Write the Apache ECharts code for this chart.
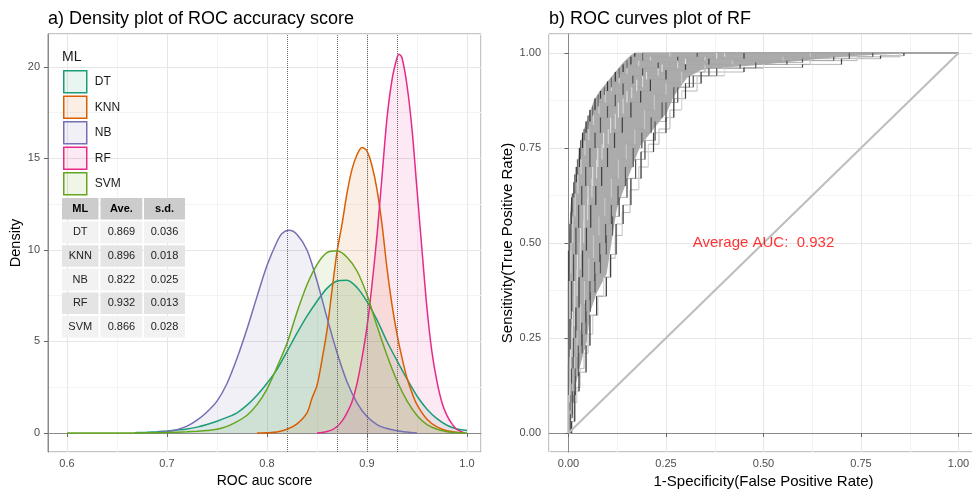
<!DOCTYPE html>
<html><head><meta charset="utf-8">
<script src="https://cdn.jsdelivr.net/npm/echarts@6/dist/echarts.min.js"></script>
<style>html,body{margin:0;padding:0;background:#fff}#c{width:972px;height:490px}</style>
</head><body><div id="c"></div>
<script>
// ---------- data ----------
const mlNames = ['DT', 'KNN', 'NB', 'RF', 'SVM'];
const aveValues = [0.869, 0.896, 0.822, 0.932, 0.866];
const sdValues = [0.036, 0.018, 0.025, 0.013, 0.028];
const tableHeader = ['ML', 'Ave.', 's.d.'];

const densityXTicks = [0.6, 0.7, 0.8, 0.9, 1.0];
const densityYTicks = [0, 5, 10, 15, 20];
const rocTicks = [0, 0.25, 0.5, 0.75, 1];

const densityDT = [[0.668,0],[0.67,0.02],[0.68,0.04],[0.69,0.07],[0.70,0.11],[0.71,0.16],[0.72,0.22],[0.73,0.32],[0.74,0.46],[0.75,0.64],[0.76,0.85],[0.77,1.1],[0.78,1.52],[0.79,2.06],[0.80,2.72],[0.81,3.48],[0.82,4.45],[0.83,5.45],[0.84,6.38],[0.85,7.2],[0.86,7.9],[0.87,8.3],[0.88,8.35],[0.89,7.95],[0.90,7.18],[0.91,6.18],[0.92,5.0],[0.93,3.95],[0.94,2.95],[0.95,2.02],[0.96,1.3],[0.97,0.78],[0.98,0.42],[0.99,0.22],[1.0,0.14]];
const densityKNN = [[0.79,0],[0.80,0.01],[0.81,0.05],[0.82,0.2],[0.83,0.5],[0.84,1.1],[0.845,1.9],[0.85,2.6],[0.855,4.0],[0.86,5.6],[0.865,7.8],[0.87,9.9],[0.875,11.4],[0.88,13.1],[0.885,14.4],[0.89,15.2],[0.895,15.6],[0.90,15.4],[0.905,14.6],[0.91,13.3],[0.915,11.4],[0.92,9.0],[0.925,7.0],[0.93,5.4],[0.935,4.1],[0.94,3.0],[0.945,2.2],[0.95,1.55],[0.96,0.75],[0.97,0.33],[0.98,0.12],[0.99,0.03],[0.995,0]];
const densityNB = [[0.685,0],[0.69,0.03],[0.70,0.08],[0.71,0.18],[0.72,0.37],[0.73,0.7],[0.74,1.15],[0.75,1.74],[0.76,2.7],[0.77,4.08],[0.78,5.68],[0.79,7.45],[0.80,9.15],[0.81,10.45],[0.815,10.9],[0.822,11.07],[0.83,10.85],[0.84,10.0],[0.85,8.3],[0.86,6.3],[0.87,4.4],[0.88,2.8],[0.89,1.65],[0.90,0.9],[0.91,0.46],[0.92,0.24],[0.93,0.12],[0.94,0.05],[0.95,0]];
const densityRF = [[0.85,0],[0.855,0.03],[0.86,0.08],[0.865,0.17],[0.87,0.35],[0.875,0.65],[0.88,1.1],[0.885,1.7],[0.89,2.7],[0.895,4.1],[0.90,5.8],[0.905,8.1],[0.91,10.8],[0.915,14.0],[0.92,17.2],[0.925,19.3],[0.93,20.5],[0.932,20.7],[0.935,20.5],[0.94,19.0],[0.945,16.6],[0.95,13.3],[0.955,10.0],[0.96,6.8],[0.965,4.4],[0.97,2.8],[0.975,1.65],[0.98,0.95],[0.985,0.5],[0.99,0.19],[0.995,0.05],[0.998,0]];
const densitySVM = [[0.60,0],[0.65,0],[0.68,0.01],[0.70,0.02],[0.71,0.04],[0.72,0.06],[0.73,0.09],[0.74,0.13],[0.75,0.2],[0.76,0.36],[0.77,0.62],[0.78,0.97],[0.79,1.55],[0.80,2.4],[0.81,3.6],[0.82,4.9],[0.83,6.6],[0.84,8.1],[0.85,9.2],[0.86,9.85],[0.87,9.95],[0.88,9.6],[0.89,8.85],[0.90,7.55],[0.91,5.85],[0.92,4.25],[0.93,2.85],[0.94,1.75],[0.95,0.95],[0.96,0.45],[0.97,0.2],[0.98,0.07],[0.99,0.02],[1.0,0]];
const densitySeries = [densityDT, densityKNN, densityNB, densityRF, densitySVM];

// ROC band envelope of all RF folds (FPR, TPR)
const rocBandUpper = [[0,0],[0,0.49],[0.004,0.52],[0.009,0.61],[0.015,0.66],[0.022,0.7],[0.03,0.76],[0.04,0.8],[0.05,0.83],[0.065,0.875],[0.08,0.9],[0.1,0.925],[0.12,0.95],[0.14,0.975],[0.16,0.995],[0.17,1]];
const rocBandLower = [[0,0],[0.005,0.03],[0.01,0.045],[0.017,0.12],[0.028,0.17],[0.047,0.24],[0.056,0.32],[0.073,0.37],[0.098,0.42],[0.11,0.5],[0.124,0.59],[0.15,0.665],[0.184,0.755],[0.218,0.8],[0.252,0.843],[0.27,0.886],[0.304,0.935],[0.34,0.955],[0.4,0.962],[0.48,0.968],[0.55,0.975],[0.62,0.982],[0.7,0.99],[0.8,0.996],[0.86,0.999],[1,1]];

// individual ROC fold curves (FPR, TPR)
const rocFold1 = [[0,0],[0,0.48],[0.004,0.55],[0.008,0.62],[0.014,0.66],[0.02,0.7],[0.028,0.75],[0.036,0.79],[0.045,0.82],[0.055,0.85],[0.068,0.88],[0.082,0.9],[0.1,0.925],[0.12,0.95],[0.14,0.97],[0.16,0.99],[0.17,1],[1,1]];
const rocFold2 = [[0,0],[0,0.3],[0.003,0.42],[0.006,0.5],[0.011,0.57],[0.017,0.63],[0.024,0.68],[0.032,0.73],[0.042,0.77],[0.052,0.81],[0.064,0.84],[0.078,0.87],[0.094,0.9],[0.11,0.92],[0.13,0.945],[0.15,0.965],[0.18,0.98],[0.21,0.99],[0.26,1],[1,1]];
const rocFold3 = [[0,0],[0,0.18],[0.004,0.3],[0.008,0.4],[0.013,0.47],[0.019,0.54],[0.026,0.6],[0.034,0.65],[0.044,0.7],[0.055,0.75],[0.068,0.79],[0.082,0.83],[0.1,0.86],[0.12,0.89],[0.14,0.92],[0.165,0.94],[0.19,0.96],[0.23,0.975],[0.28,0.99],[0.33,1],[1,1]];
const rocFold4 = [[0,0],[0.002,0.12],[0.005,0.22],[0.01,0.32],[0.016,0.4],[0.023,0.47],[0.031,0.54],[0.04,0.6],[0.05,0.65],[0.062,0.7],[0.075,0.75],[0.09,0.79],[0.108,0.83],[0.128,0.87],[0.15,0.9],[0.175,0.93],[0.2,0.95],[0.24,0.97],[0.3,0.985],[0.38,1],[1,1]];
const rocFold5 = [[0,0],[0.003,0.08],[0.007,0.17],[0.012,0.25],[0.019,0.33],[0.027,0.41],[0.036,0.48],[0.046,0.54],[0.057,0.6],[0.07,0.65],[0.085,0.7],[0.1,0.75],[0.118,0.79],[0.138,0.83],[0.16,0.87],[0.185,0.9],[0.21,0.93],[0.25,0.955],[0.3,0.97],[0.36,0.985],[0.45,1],[1,1]];
const rocFold6 = [[0,0],[0.004,0.06],[0.009,0.13],[0.015,0.2],[0.022,0.27],[0.031,0.34],[0.041,0.4],[0.052,0.46],[0.064,0.52],[0.078,0.57],[0.093,0.62],[0.11,0.67],[0.128,0.72],[0.148,0.76],[0.17,0.8],[0.195,0.85],[0.22,0.89],[0.25,0.92],[0.29,0.95],[0.35,0.97],[0.42,0.98],[0.55,0.99],[0.62,1],[1,1]];
const rocFold7 = [[0,0],[0.005,0.04],[0.011,0.1],[0.018,0.15],[0.026,0.21],[0.035,0.26],[0.045,0.32],[0.056,0.37],[0.068,0.42],[0.082,0.47],[0.097,0.52],[0.113,0.57],[0.13,0.62],[0.15,0.67],[0.172,0.72],[0.196,0.77],[0.222,0.82],[0.25,0.87],[0.28,0.91],[0.32,0.94],[0.38,0.96],[0.48,0.975],[0.6,0.985],[0.72,1],[1,1]];
const rocFold8 = [[0,0],[0.006,0.03],[0.013,0.08],[0.021,0.12],[0.03,0.17],[0.04,0.21],[0.05,0.26],[0.062,0.31],[0.075,0.36],[0.09,0.41],[0.105,0.46],[0.12,0.52],[0.138,0.58],[0.158,0.64],[0.18,0.7],[0.205,0.76],[0.232,0.8],[0.26,0.85],[0.29,0.9],[0.33,0.94],[0.4,0.96],[0.5,0.97],[0.62,0.98],[0.74,0.99],[0.85,1],[1,1]];
const rocFold9 = [[0,0],[0.008,0.03],[0.016,0.11],[0.027,0.16],[0.045,0.23],[0.055,0.31],[0.072,0.36],[0.097,0.41],[0.108,0.47],[0.122,0.55],[0.14,0.6],[0.16,0.67],[0.186,0.74],[0.218,0.79],[0.25,0.83],[0.27,0.88],[0.3,0.92],[0.34,0.95],[0.45,0.962],[0.6,0.97],[0.7,0.985],[0.8,0.993],[0.86,1],[1,1]];
const rocFold10 = [[0,0],[0,0.4],[0.002,0.5],[0.006,0.58],[0.01,0.63],[0.016,0.68],[0.023,0.72],[0.031,0.77],[0.04,0.8],[0.05,0.835],[0.062,0.86],[0.076,0.89],[0.092,0.91],[0.11,0.935],[0.13,0.96],[0.15,0.98],[0.19,1],[1,1]];
const rocFold11 = [[0,0],[0.001,0.1],[0.004,0.2],[0.009,0.28],[0.015,0.36],[0.022,0.43],[0.03,0.5],[0.039,0.56],[0.049,0.62],[0.06,0.67],[0.072,0.72],[0.086,0.76],[0.102,0.8],[0.12,0.84],[0.14,0.88],[0.162,0.91],[0.19,0.94],[0.23,0.96],[0.28,0.98],[0.35,0.99],[0.4,1],[1,1]];
const rocFold12 = [[0,0],[0.005,0.05],[0.01,0.11],[0.017,0.17],[0.025,0.23],[0.034,0.29],[0.044,0.35],[0.055,0.4],[0.067,0.45],[0.08,0.5],[0.095,0.55],[0.11,0.6],[0.127,0.65],[0.146,0.7],[0.166,0.75],[0.188,0.79],[0.212,0.83],[0.24,0.87],[0.27,0.91],[0.31,0.94],[0.36,0.96],[0.44,0.97],[0.56,0.98],[0.68,0.99],[0.78,1],[1,1]];
const rocFolds = [rocFold1, rocFold2, rocFold3, rocFold4, rocFold5, rocFold6, rocFold7, rocFold8, rocFold9, rocFold10, rocFold11, rocFold12];

const chanceLine = [[0,0],[1,1]];
const aucLabelPos = [0.5, 0.5];
const aucText = 'Average AUC:  0.932';

// ---------- styles ----------
const FONT = '"Liberation Sans", Arial, Helvetica, sans-serif';
const mlColors = ['#1b9e77', '#d95f02', '#7570b3', '#e7298a', '#66a61e'];
const mlFills = ['rgba(27,158,119,0.1)', 'rgba(217,95,2,0.1)', 'rgba(117,112,179,0.1)', 'rgba(231,41,138,0.1)', 'rgba(102,166,30,0.1)'];
const foldColors = ['#333333', '#d2d2d2', '#4f4f4f', '#e0e0e0', '#3f3f3f', '#c8c8c8', '#5a5a5a', '#dadada', '#404040', '#6a6a6a', '#d6d6d6', '#595959'];

function mainAxis(gridIndex, min, max, step, ticks, digits, margin, extra) {
  return Object.assign({
    type: 'value', gridIndex, min, max, minInterval: step, maxInterval: step, z: 1,
    axisLine: { show: true, lineStyle: { color: '#8a8a8a', width: 1 } },
    axisTick: { show: true, length: 4, customValues: ticks, lineStyle: { color: '#666', width: 1 } },
    axisLabel: { color: '#4d4d4d', fontSize: 11, fontFamily: FONT, margin, customValues: ticks,
      formatter: v => Number(v).toFixed(digits) },
    splitLine: { show: true, lineStyle: { color: '#e6e6e6', width: 1 } },
    nameLocation: 'middle'
  }, extra);
}
function minorAxis(gridIndex, min, max, step) {
  return {
    type: 'value', gridIndex, min, max, minInterval: step, maxInterval: step, z: 0,
    axisLine: { show: false }, axisTick: { show: false }, axisLabel: { show: false },
    splitLine: { show: true, lineStyle: { color: '#f3f3f3', width: 1 } }
  };
}

const X0 = [0.581, 1.014], Y0 = [-1.04, 21.8], R = [-0.05, 1.05];

const series = [];
densitySeries.forEach((d, i) => {
  series.push({
    type: 'line', name: mlNames[i], xAxisIndex: 0, yAxisIndex: 0, data: d,
    showSymbol: false, smooth: 0.3, silent: true, z: 2,
    lineStyle: { color: mlColors[i], width: 1.5 },
    itemStyle: { color: mlColors[i] },
    areaStyle: { color: mlColors[i], opacity: 0.1 },
    markLine: {
      silent: true, symbol: ['none', 'none'], label: { show: false },
      lineStyle: { color: '#6a6a6a', type: 'dotted', width: 1 },
      data: [{ xAxis: aveValues[i] }]
    }
  });
});
// band of all folds
series.push({
  type: 'custom', xAxisIndex: 1, yAxisIndex: 1, data: [[0, 0]], silent: true, z: 1,
  renderItem: (params, api) => {
    const pts = rocBandUpper.concat(rocBandLower.slice().reverse()).map(p => api.coord(p));
    return { type: 'polygon', shape: { points: pts }, style: { fill: '#ababab' } };
  }
});
// fold curves (thin) as step lines
rocFolds.forEach((d, i) => {
  series.push({
    type: 'line', xAxisIndex: 1, yAxisIndex: 1, data: d, step: 'end',
    showSymbol: false, silent: true, z: 2,
    lineStyle: { color: '#a4a4a4', width: 0.8 }
  });
});
// vertical jumps of each fold curve, drawn as strokes
const jumpData = [];
rocFolds.forEach((d, f) => {
  for (let k = 1; k < d.length; k++) {
    if (d[k][1] > d[k - 1][1]) jumpData.push([d[k][0], d[k - 1][1], d[k][1], f]);
  }
});
series.push({
  type: 'custom', xAxisIndex: 1, yAxisIndex: 1, data: jumpData, silent: true, z: 3,
  encode: { x: 0, y: [1, 2] },
  renderItem: (params, api) => {
    const a = api.coord([api.value(0), api.value(1)]);
    const b = api.coord([api.value(0), api.value(2)]);
    return { type: 'line', shape: { x1: a[0], y1: a[1], x2: b[0], y2: b[1] },
      style: { stroke: foldColors[api.value(3) % foldColors.length], lineWidth: 1.2 } };
  }
});
series.push({
  type: 'line', xAxisIndex: 1, yAxisIndex: 1, data: chanceLine, showSymbol: false, silent: true, z: 4,
  lineStyle: { color: '#bdbdbd', width: 2 }
});
series.push({
  type: 'scatter', xAxisIndex: 1, yAxisIndex: 1, data: [aucLabelPos], symbolSize: 1, silent: true, z: 5,
  itemStyle: { color: 'rgba(0,0,0,0)' },
  label: { show: true, position: 'inside', formatter: aucText, color: '#ff0000', fontSize: 15, fontFamily: FONT }
});

// table graphic
const colX = [62, 100.5, 144], colW = [36.5, 41.8, 41], rowY0 = 198, rowPitch = 23.6, cellH = 21.6;
const graphics = [{ type: 'text', left: 62, top: 50, z: 100, silent: true,
  style: { text: 'ML', font: '14px ' + FONT, fill: '#1a1a1a' } }];
for (let r = 0; r <= mlNames.length; r++) {
  for (let c = 0; c < 3; c++) {
    const fill = r === 0 ? '#cccccc' : (r % 2 === 1 ? '#f2f2f2' : '#e4e4e4');
    graphics.push({ type: 'rect', z: 100, silent: true,
      shape: { x: colX[c], y: rowY0 + r * rowPitch, width: colW[c], height: cellH }, style: { fill } });
    const txt = r === 0 ? tableHeader[c] : [mlNames[r - 1], aveValues[r - 1].toFixed(3), sdValues[r - 1].toFixed(3)][c];
    graphics.push({ type: 'text', z: 101, silent: true,
      x: colX[c] + colW[c] / 2, y: rowY0 + r * rowPitch + cellH / 2,
      style: { text: txt, font: (r === 0 ? 'bold ' : '') + '11px ' + FONT, fill: r === 0 ? '#000' : '#222',
        align: 'center', verticalAlign: 'middle' } });
  }
}

const option = {
  animation: false,
  backgroundColor: '#ffffff',
  textStyle: { fontFamily: FONT },
  title: [
    { text: 'a) Density plot of ROC accuracy score', left: 48, top: 10, padding: 0,
      textStyle: { fontSize: 18, fontWeight: 'normal', color: '#000', fontFamily: FONT } },
    { text: 'b) ROC curves plot of RF', left: 549, top: 10, padding: 0,
      textStyle: { fontSize: 18, fontWeight: 'normal', color: '#000', fontFamily: FONT } }
  ],
  grid: [
    { left: 48, top: 34, width: 433, height: 418, show: true, borderColor: '#8a8a8a', borderWidth: 1, backgroundColor: 'transparent', containLabel: false, outerBoundsMode: 'none' },
    { left: 549, top: 34, width: 429, height: 418, show: true, borderColor: '#8a8a8a', borderWidth: 1, backgroundColor: 'transparent', containLabel: false, outerBoundsMode: 'none' }
  ],
  xAxis: [
    mainAxis(0, X0[0], X0[1], 0.1, densityXTicks, 1, 6, { name: 'ROC auc score', nameGap: 22, nameTextStyle: { color: '#000', fontFamily: FONT, fontSize: 14 } }),
    mainAxis(1, R[0], R[1], 0.25, rocTicks, 2, 6, { name: '1-Specificity(False Positive Rate)', nameGap: 20, nameTextStyle: { color: '#000', fontFamily: FONT, fontSize: 15 } }),
    minorAxis(0, X0[0], X0[1], 0.05),
    minorAxis(1, R[0], R[1], 0.125)
  ],
  yAxis: [
    mainAxis(0, Y0[0], Y0[1], 5, densityYTicks, 0, 8, { name: 'Density', nameGap: 25, nameTextStyle: { color: '#000', fontFamily: FONT, fontSize: 14.5 } }),
    mainAxis(1, R[0], R[1], 0.25, rocTicks, 2, 8, { name: 'Sensitivity(True Positive Rate)', nameGap: 34, nameTextStyle: { color: '#000', fontFamily: FONT, fontSize: 15 } }),
    minorAxis(0, Y0[0], Y0[1], 2.5),
    minorAxis(1, R[0], R[1], 0.125)
  ],
  legend: {
    left: 63, top: 70, orient: 'vertical', padding: 0, itemWidth: 23, itemHeight: 22, itemGap: 2,
    selectedMode: false,
    textStyle: { fontSize: 12, color: '#1a1a1a', fontFamily: FONT, padding: [0, 0, 0, 3] },
    data: mlNames.map((n, i) => ({ name: n, icon: 'rect',
      itemStyle: { color: mlFills[i], borderColor: mlColors[i], borderWidth: 1.5 } }))
  },
  graphic: graphics,
  series
};

const chart = echarts.init(document.getElementById('c'), null, { renderer: 'canvas' });
chart.setOption(option);
</script>
</body></html>
